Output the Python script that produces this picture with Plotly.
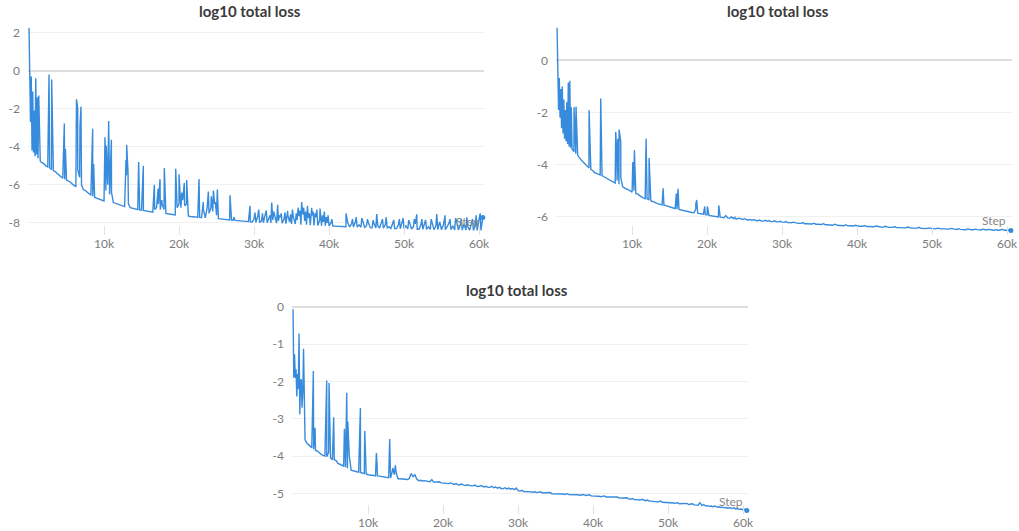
import plotly.graph_objects as go

# ---------------- data ----------------
steps_early = list(range(0, 2000, 100))          # fine logging at the start
steps_late = list(range(2000, 60501, 250))       # later logging

# ---- Chart A (top-left) ----
loss_a_early = [2.25, -0.1, -2.7, -0.3, -4.2, -1.1, -4.3, -2.1, -4.5, -0.4,
                -4.4, -1.4, -4.6, -1.3, -4.7, -4.75, -4.8, -4.82, -4.85, -4.88]
loss_a_late = [
    -4.9, -5.0, -5.05, -5.1, -5.2, -5.25, -5.3, -5.4,           # 2000
    -5.5, -5.55, -5.65, -5.7, -5.75, -5.8, -5.85, -5.95,        # 4000
    -6.05, -6.1, -5.2, -5.6, -6.0, -6.25, -6.3, -6.4,           # 6000
    -6.5, -6.55, -6.6, -6.65, -6.7, -6.73, -6.77, -6.8,         # 8000
    -6.85, -6.3, -6.0, -6.5, -6.4, -6.93, -6.97, -7.02,         # 10000
    -7.05, -7.08, -7.11, -7.14, -5.5, -7.0, -7.2, -7.22,        # 12000
    -7.25, -7.27, -7.3, -7.32, -7.33, -7.35, -7.37, -7.4,       # 14000
    -7.42, -7.43, -7.44, -7.3, -7.2, -7.0, -7.3, -7.0,          # 16000
    -7.3, -7.5, -7.52, -7.54, -7.56, -7.57, -7.58, -7.2,        # 18000
    -7.0, -7.2, -6.8, -7.1, -7.0, -7.64, -7.66, -7.67,          # 20000
    -7.68, -7.69, -7.7, -7.71, -7.72, -7.3, -7.73, -7.2,        # 22000
    -7.5, -7.2, -7.4, -7.0, -7.6, -7.78, -7.79, -7.8,           # 24000
    -7.81, -7.82, -7.83, -7.84, -7.85, -7.86, -7.87, -7.88,     # 26000
    -7.89, -7.9, -7.91, -7.92, -7.93, -7.93, -7.94, -7.95,      # 28000
    -7.8, -7.97, -7.65, -7.98, -7.9, -7.99, -7.55, -7.99,       # 30000
    -7.75, -8.0, -7.85, -7.6, -8.01, -7.9, -7.7, -8.02,         # 32000
    -7.8, -8.04, -7.6, -7.95, -8.05, -7.7, -8.06, -7.85,        # 34000
    -7.65, -8.1, -7.55, -7.9, -8.1, -7.75, -8.12, -7.6,         # 36000
    -8.13, -7.7, -8.14, -7.85, -8.15, -7.95, -8.15, -8.0,       # 38000
    -8.16, -8.0, -8.17, -8.17, -8.18, -8.18, -8.19, -8.19,      # 40000
    -8.2, -8.2, -8.0, -8.21, -8.05, -8.21, -7.95, -8.22,        # 42000
    -8.1, -8.23, -7.9, -8.24, -8.15, -8.0, -8.25, -8.26,        # 44000
    -8.05, -8.26, -8.15, -8.27, -7.95, -8.28, -8.1, -8.28,      # 46000
    -8.2, -8.29, -8.0, -8.3, -8.3, -8.1, -8.31, -7.95,          # 48000
    -8.31, -8.15, -8.32, -8.0, -8.32, -8.2, -8.05, -8.33,       # 50000
    -8.33, -8.1, -8.33, -7.95, -8.34, -8.2, -8.34, -8.0,        # 52000
    -8.35, -8.15, -8.35, -7.95, -8.36, -8.1, -8.36, -8.2,       # 54000
    -8.0, -8.36, -8.15, -8.37, -7.9, -8.37, -8.1, -8.38,        # 56000
    -8.05, -8.38, -8.2, -8.38, -7.95, -8.39, -8.15, -8.39,      # 58000
    -7.8, -8.39, -7.72]                                          # 60000
spike_a_steps = [2670, 3020, 4710, 4850, 6330, 6490, 6800, 6930, 8490, 8620,
                 10130, 10300, 10620, 10980, 12930, 13020, 13200, 14620, 15240,
                 16710, 17220, 17470, 17700, 18040, 19560, 20000, 20380, 20700,
                 21020, 22670, 23240, 23910, 24300, 24580, 24850, 25110, 26800,
                 27300, 29470,
                 30125, 30625, 31125, 31625, 32125, 32360, 32625, 33150, 33375,
                 33625, 34125, 34490, 34875, 35125, 35625, 35875, 36125, 36350,
                 36625, 36875, 37125, 37375, 37690, 37875, 38125, 38375, 38800,
                 39125, 39375, 39625, 39875, 40375, 42270, 43125, 43625, 44375,
                 45125, 45875, 46360, 47125, 47625, 48625, 49375, 49875, 50625,
                 51375, 51690, 52375, 52875, 53625, 54360, 55470, 56125, 56875,
                 57625, 58375, 59125, 59600, 60150]
spike_a_vals = [-0.2, -0.47, -2.77, -4.1, -1.5, -1.95, -2.9, -1.9, -3.05, -4.9,
                -3.5, -3.95, -2.65, -3.63, -4.7, -3.9, -5.3, -4.8, -5.0,
                -6.0, -6.2, -5.7, -6.8, -5.12, -5.15, -5.44, -6.4, -5.9,
                -5.75, -5.7, -6.9, -6.35, -6.6, -6.3, -6.9, -6.25, -6.55,
                -7.7, -7.1,
                -7.45, -7.3, -7.5, -7.35, -7.6, -6.93, -7.4, -7.05, -7.6,
                -7.5, -7.45, -7.37, -7.55, -7.3, -7.5, -7.2, -7.35, -6.9,
                -7.2, -7.4, -7.1, -7.5, -7.2, -7.4, -7.5, -7.3, -7.25,
                -7.6, -7.4, -7.7, -7.6, -7.8, -7.5, -7.8, -7.7, -7.75,
                -7.8, -7.85, -7.54, -7.8, -7.7, -7.85, -7.8, -7.75, -7.85,
                -7.8, -7.55, -7.8, -7.85, -7.8, -7.54, -7.6, -7.8, -7.75,
                -7.8, -7.7, -7.8, -7.6, -7.5]

# ---- Chart B (top-right) ----
loss_b_early = [1.25, -0.6, -1.9, -0.67, -2.2, -1.1, -2.6, -1.0, -2.8, -1.5,
                -3.0, -1.9, -3.1, -1.6, -3.2, -0.85, -3.3, -0.78, -3.35, -1.8]
loss_b_late = [
    -3.4, -3.5, -3.58, -3.64, -3.75, -3.83, -3.9, -3.97,        # 2000
    -4.05, -4.12, -4.18, -4.22, -4.3, -4.33, -4.36, -4.39,      # 4000
    -4.42, -4.46, -4.5, -4.55, -4.6, -4.63, -4.67, -4.7,        # 6000
    -4.6, -4.75, -4.5, -4.85, -4.9, -4.93, -4.96, -4.99,        # 8000
    -5.05, -5.0, -5.1, -5.13, -5.2, -5.23, -5.27, -5.3,         # 10000
    -5.3, -5.35, -5.38, -5.42, -5.45, -5.47, -5.5, -5.52,       # 12000
    -5.54, -5.55, -5.57, -5.6, -5.62, -5.64, -5.66, -5.68,      # 14000
    -5.7, -5.71, -5.73, -5.75, -5.77, -5.78, -5.8, -5.81,       # 16000
    -5.83, -5.84, -5.7, -5.86, -5.88, -5.89, -5.9, -5.91,       # 18000
    -5.92, -5.94, -5.95, -5.97, -5.98, -5.99, -6.0, -6.01,      # 20000
    -6.02, -6.03, -5.95, -6.04, -6.05, -6.0, -6.06, -6.07,      # 22000
    -6.08, -6.05, -6.09, -6.1, -6.06, -6.11, -6.12, -6.1,       # 24000
    -6.13, -6.1, -6.14, -6.15, -6.12, -6.16, -6.16, -6.13,      # 26000
    -6.17, -6.14, -6.18, -6.18, -6.15, -6.19, -6.19, -6.17,     # 28000
    -6.2, -6.21, -6.18, -6.22, -6.22, -6.23, -6.2, -6.23,       # 30000
    -6.24, -6.25, -6.25, -6.22, -6.26, -6.26, -6.27, -6.27,     # 32000
    -6.27, -6.24, -6.28, -6.28, -6.29, -6.29, -6.26, -6.3,      # 34000
    -6.3, -6.31, -6.31, -6.32, -6.28, -6.32, -6.33, -6.33,      # 36000
    -6.33, -6.34, -6.3, -6.34, -6.34, -6.35, -6.35, -6.32,      # 38000
    -6.35, -6.36, -6.36, -6.36, -6.33, -6.37, -6.37, -6.37,     # 40000
    -6.37, -6.38, -6.35, -6.38, -6.38, -6.39, -6.39, -6.36,     # 42000
    -6.39, -6.4, -6.4, -6.4, -6.37, -6.41, -6.41, -6.41,        # 44000
    -6.41, -6.42, -6.42, -6.39, -6.42, -6.43, -6.43, -6.43,     # 46000
    -6.43, -6.4, -6.44, -6.44, -6.44, -6.45, -6.42, -6.45,      # 48000
    -6.45, -6.45, -6.46, -6.43, -6.46, -6.46, -6.46, -6.47,     # 50000
    -6.46, -6.47, -6.44, -6.47, -6.47, -6.48, -6.45, -6.48,     # 52000
    -6.48, -6.48, -6.49, -6.46, -6.49, -6.49, -6.49, -6.47,     # 54000
    -6.49, -6.5, -6.5, -6.47, -6.5, -6.5, -6.48, -6.5,          # 56000
    -6.5, -6.51, -6.49, -6.51, -6.51, -6.48, -6.51, -6.51,      # 58000
    -6.51, -6.5, -6.52]                                          # 60000
spike_b_steps = [2270, 2530, 4270, 5820, 7820, 7950, 8100, 8270, 8490, 10100,
                 10310, 11870, 12270, 14140, 15900, 16130, 18500, 18620, 19690,
                 20040, 21560, 23730]
spike_b_vals = [-1.8, -1.77, -1.91, -1.46, -2.74, -3.5, -3.0, -2.65, -3.12, -3.9,
                -3.44, -3.0, -3.74, -4.9, -5.1, -4.92, -5.5, -5.35, -5.6,
                -5.6, -5.56, -6.0]

# ---- Chart C (bottom) ----
loss_c_early = [-0.06, -1.9, -1.27, -1.9, -1.67, -2.4, -1.8, -2.2, -0.71, -2.88,
                -2.0, -1.94, -2.7, -2.3, -1.12, -3.42, -3.55, -3.6, -3.65, -3.67]
loss_c_late = [
    -3.68, -3.73, -3.78, -3.82, -3.85, -3.87, -3.92, -3.95,     # 2000
    -3.98, -4.0, -4.02, -3.9, -4.05, -4.1, -4.1, -4.12,         # 4000
    -4.2, -4.22, -4.25, -4.27, -4.3, -4.33, -4.0, -4.38,        # 6000
    -4.4, -4.41, -4.42, -4.43, -4.44, -4.45, -4.47, -4.48,      # 8000
    -4.5, -4.5, -4.51, -4.52, -4.53, -4.53, -4.54, -4.55,       # 10000
    -4.56, -4.57, -4.58, -4.58, -4.59, -4.4, -4.5, -4.45,       # 12000
    -4.61, -4.61, -4.62, -4.62, -4.63, -4.63, -4.6, -4.47,      # 14000
    -4.55, -4.5, -4.62, -4.66, -4.65, -4.67, -4.66, -4.68,      # 16000
    -4.68, -4.69, -4.63, -4.7, -4.7, -4.71, -4.69, -4.72,       # 18000
    -4.73, -4.72, -4.74, -4.74, -4.72, -4.75, -4.76, -4.74,     # 20000
    -4.77, -4.77, -4.75, -4.78, -4.79, -4.77, -4.79, -4.8,      # 22000
    -4.8, -4.78, -4.81, -4.82, -4.79, -4.82, -4.83, -4.81,      # 24000
    -4.84, -4.84, -4.81, -4.85, -4.83, -4.86, -4.84, -4.87,     # 26000
    -4.88, -4.85, -4.88, -4.86, -4.89, -4.87, -4.9, -4.86,      # 28000
    -4.93, -4.94, -4.92, -4.95, -4.95, -4.94, -4.96, -4.96,     # 30000
    -4.97, -4.96, -4.98, -4.98, -4.96, -4.99, -4.99, -5.0,      # 32000
    -5.0, -4.98, -5.01, -5.01, -5.01, -5.0, -5.02, -5.02,       # 34000
    -5.02, -5.03, -5.01, -5.03, -5.03, -5.04, -5.02, -5.04,     # 36000
    -5.04, -5.05, -5.05, -5.03, -5.06, -5.06, -5.04, -5.07,     # 38000
    -5.07, -5.08, -5.06, -5.08, -5.09, -5.09, -5.07, -5.1,      # 40000
    -5.1, -5.11, -5.1, -5.12, -5.12, -5.1, -5.13, -5.13,        # 42000
    -5.14, -5.14, -5.12, -5.15, -5.16, -5.14, -5.17, -5.17,     # 44000
    -5.18, -5.18, -5.16, -5.19, -5.2, -5.18, -5.21, -5.21,      # 46000
    -5.22, -5.21, -5.23, -5.23, -5.21, -5.24, -5.24, -5.25,     # 48000
    -5.25, -5.24, -5.26, -5.26, -5.27, -5.25, -5.28, -5.28,     # 50000
    -5.28, -5.29, -5.27, -5.3, -5.3, -5.28, -5.31, -5.31,       # 52000
    -5.32, -5.25, -5.33, -5.3, -5.34, -5.33, -5.35, -5.34,      # 54000
    -5.36, -5.34, -5.37, -5.36, -5.38, -5.37, -5.39, -5.38,     # 56000
    -5.4, -5.38, -5.41, -5.39, -5.42, -5.41, -5.43, -5.42,      # 58000
    -5.44, -5.43, -5.46]                                         # 60000
spike_c_steps = [2710, 2930, 4490, 4800, 5420, 6850, 7160, 7300, 8980, 9560,
                 11110, 11200, 12890, 13300, 13640]
spike_c_vals = [-1.72, -3.24, -1.97, -2.04, -2.96, -3.27, -2.3, -3.07, -2.71, -3.33,
                -3.92, -4.2, -3.54, -4.32, -4.25]

x_tick_vals = [10000, 20000, 30000, 40000, 50000, 60000]
x_tick_text = ["10k", "20k", "30k", "40k", "50k", "60k"]
y_ticks_a = [2, 0, -2, -4, -6, -8]
y_ticks_b = [0, -2, -4, -6]
y_ticks_c = [0, -1, -2, -3, -4, -5]
title_text = "log10 total loss"
x_title = "Step"

# ---------------- figure ----------------
W, H = 1019, 531
LINE = "#378bdc"
FONT = "Lato, 'Noto Sans', sans-serif"

steps = steps_early + steps_late


def merged(early, late, sp_steps, sp_vals):
    vals = early + late
    n = min(len(steps), len(vals))
    pts = list(zip(steps[:n], vals[:n])) + list(zip(sp_steps, sp_vals))
    pts.sort(key=lambda p: p[0])
    return [p[0] for p in pts], [p[1] for p in pts]


series = [
    (merged(loss_a_early, loss_a_late, spike_a_steps, spike_a_vals), "x", "y"),
    (merged(loss_b_early, loss_b_late, spike_b_steps, spike_b_vals), "x2", "y2"),
    (merged(loss_c_early, loss_c_late, spike_c_steps, spike_c_vals), "x3", "y3"),
]

fig = go.Figure()
for (xs, ys), xa, ya in series:
    fig.add_trace(go.Scatter(x=xs, y=ys, xaxis=xa, yaxis=ya, mode="lines",
                             line=dict(color=LINE, width=1.4), hoverinfo="skip",
                             showlegend=False))
    fig.add_trace(go.Scatter(x=[xs[-1]], y=[ys[-1]], xaxis=xa, yaxis=ya,
                             mode="markers", marker=dict(color=LINE, size=5),
                             cliponaxis=False, hoverinfo="skip", showlegend=False))


# screen-position helpers (small correction for the capture's framing)
def px_x(p):
    return (p / 0.994) / W


def px_y(p):
    return 1 - ((p - 5.5) / 0.987) / H


def xaxis(left, right, anchor):
    return dict(domain=[px_x(left), min(1.0, px_x(right))], range=[-133, 60667],
                anchor=anchor, showgrid=False, zeroline=False, showline=False,
                ticks="inside", ticklen=9, tickwidth=1, tickcolor="#e2e2e2",
                tickvals=x_tick_vals, ticktext=x_tick_text,
                tickfont=dict(family=FONT, size=12, color="#7c7c7c"),
                fixedrange=True)


def yaxis(top, bottom, rng, tv, anchor):
    return dict(domain=[px_y(bottom), px_y(top)], range=rng, anchor=anchor,
                showgrid=True, gridcolor="#f0f0f0", gridwidth=1,
                zeroline=True, zerolinecolor="#dddddd", zerolinewidth=2,
                showline=False, ticks="", tickvals=tv,
                ticktext=[str(v) for v in tv],
                ticklabelstandoff=7,
                tickfont=dict(family=FONT, size=12, color="#7c7c7c"),
                fixedrange=True)


annotations = []
for cx, cy in [(250, 10), (778, 10), (517, 289)]:
    annotations.append(dict(text="<b>%s</b>" % title_text, x=px_x(cx), y=px_y(cy),
                            xref="paper", yref="paper", showarrow=False,
                            xanchor="center", yanchor="middle",
                            font=dict(family=FONT, size=15, color="#3a3a3a")))
for cx, cy in [(468, 221), (994, 220), (731, 500)]:
    annotations.append(dict(text=x_title, x=px_x(cx), y=px_y(cy),
                            xref="paper", yref="paper", showarrow=False,
                            xanchor="center", yanchor="middle",
                            font=dict(family=FONT, size=12, color="#888888")))

fig.update_layout(
    width=W, height=H, margin=dict(l=0, r=0, t=0, b=0),
    paper_bgcolor="white", plot_bgcolor="white",
    xaxis=xaxis(28, 484, "y"),
    yaxis=yaxis(26, 234, [-8.63, 2.32], y_ticks_a, "x"),
    xaxis2=xaxis(556, 1012, "y2"),
    yaxis2=yaxis(26, 234, [-6.69, 1.3], y_ticks_b, "x2"),
    xaxis3=xaxis(292, 748, "y3"),
    yaxis3=yaxis(304, 513, [-5.565, 0.054], y_ticks_c, "x3"),
    annotations=annotations,
    showlegend=False,
)

fig.write_html(
    "out.html",
    config={"displayModeBar": False},
    post_script=(
        "document.documentElement.style.margin='0';"
        "document.documentElement.style.overflow='hidden';"
        "document.body.style.margin='0';"
        "document.body.style.overflow='hidden';"
        "document.body.style.height='531px';"
        "var gd=document.getElementsByClassName('plotly-graph-div')[0];"
        "gd.style.position='absolute';gd.style.left='0px';gd.style.top='0px';"
    ),
)
